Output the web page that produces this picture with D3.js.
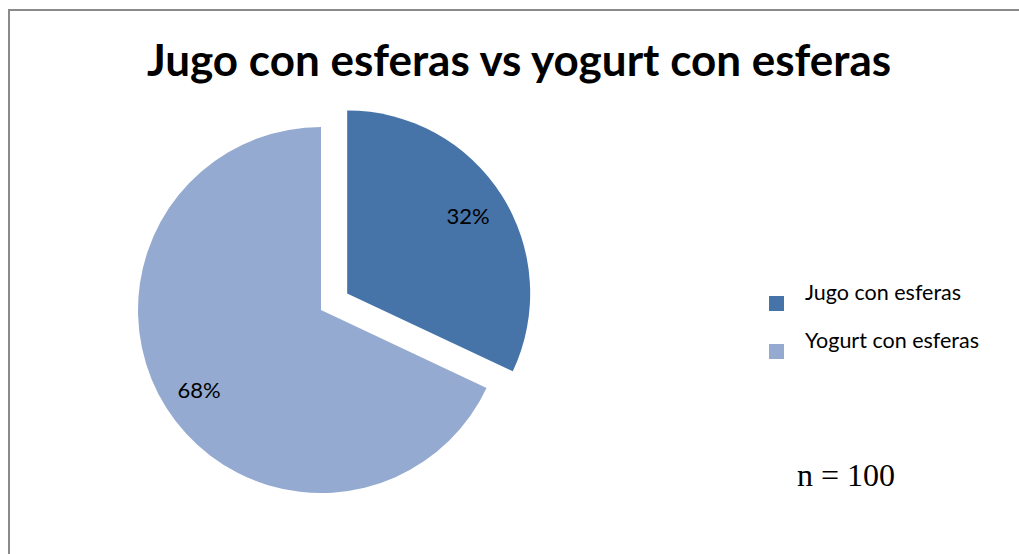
<!DOCTYPE html>
<html>
<head>
<meta charset="utf-8">
<script src="https://cdn.jsdelivr.net/npm/d3@7"></script>
<style>
  body { margin: 0; background: #fff; overflow: hidden; }
  svg { display: block; }
  .sans { font-family: Lato, "Open Sans", sans-serif; }
  .serif { font-family: "Liberation Serif", "Times New Roman", serif; }
</style>
</head>
<body>
<div id="chart"></div>
<script>
var svgWidth = 1019;
var svgHeight = 554;

// data
var categories = ["Jugo con esferas", "Yogurt con esferas"];
var values = [32, 68];
var colors = ["#4673A8", "#95AAD1"];
var sampleNote = "n = 100";
var title = "Jugo con esferas vs yogurt con esferas";

var svg = d3.select("#chart")
  .append("svg")
  .attr("width", svgWidth)
  .attr("height", svgHeight);

// chart frame: only the top and left edges are inside the picture
svg.append("path")
  .attr("d", `M9,${svgHeight} V10 H${svgWidth}`)
  .attr("fill", "none")
  .attr("stroke", "#8a8a8a")
  .attr("stroke-width", 2);

svg.append("text")
  .attr("class", "sans")
  .attr("x", 519)
  .attr("y", 76)
  .attr("text-anchor", "middle")
  .attr("font-weight", "bold")
  .attr("font-size", 44)
  .attr("fill", "#000")
  .text(title);

// pie
var cx = 321, cy = 310, radius = 183, explode = 31;

var pie = d3.pie().sort(null).value(d => d);
var arcs = pie(values);
var arc = d3.arc().innerRadius(0).outerRadius(radius);

var pieGroup = svg.append("g")
  .attr("transform", `translate(${cx}, ${cy})`);

var slices = pieGroup.selectAll("g.slice")
  .data(arcs)
  .enter()
  .append("g")
  .attr("class", "slice")
  .attr("transform", function(d, i) {
    // only the first slice is pulled out
    if (i !== 0) return null;
    var mid = (d.startAngle + d.endAngle) / 2;
    return `translate(${Math.sin(mid) * explode}, ${-Math.cos(mid) * explode})`;
  });

slices.append("path")
  .attr("d", arc)
  .attr("fill", (d, i) => colors[i]);

// percent labels (positions relative to the pie centre)
var labelPos = [[147, -86], [-122, 88]];
svg.append("g")
  .attr("transform", `translate(${cx}, ${cy})`)
  .selectAll("text")
  .data(arcs)
  .enter()
  .append("text")
  .attr("class", "sans")
  .attr("x", (d, i) => labelPos[i][0])
  .attr("y", (d, i) => labelPos[i][1])
  .attr("text-anchor", "middle")
  .attr("font-size", 22)
  .attr("fill", "#000")
  .text(d => Math.round(d.value / d3.sum(values) * 100) + "%");

// legend
var legend = svg.append("g")
  .attr("transform", "translate(769, 296)");

var items = legend.selectAll("g")
  .data(categories)
  .enter()
  .append("g")
  .attr("transform", (d, i) => `translate(0, ${i * 48})`);

items.append("rect")
  .attr("width", 15)
  .attr("height", 15)
  .attr("fill", (d, i) => colors[i]);

items.append("text")
  .attr("class", "sans")
  .attr("x", 36)
  .attr("y", 4)
  .attr("font-size", 21.5)
  .attr("fill", "#000")
  .text(d => d);

svg.append("text")
  .attr("class", "serif")
  .attr("x", 797)
  .attr("y", 486)
  .attr("font-size", 32)
  .attr("fill", "#000")
  .text(sampleNote);
</script>
</body>
</html>
